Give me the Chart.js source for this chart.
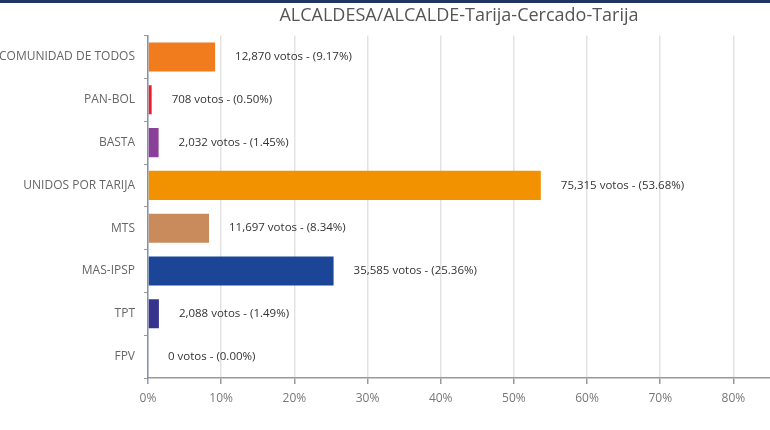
<!DOCTYPE html>
<html>
<head>
<meta charset="utf-8">
<script src="https://cdn.jsdelivr.net/npm/chart.js@4/dist/chart.umd.min.js"></script>
<style>
  html, body { margin: 0; padding: 0; background: #fff; }
  #wrap { position: relative; width: 770px; height: 430px; }
  #band { position: absolute; left: 0; top: 0; width: 770px; height: 3px; background: #1e3566; }
</style>
</head>
<body>
<div id="wrap">
  <canvas id="chart" width="770" height="430"></canvas>
  <div id="band"></div>
</div>
<script>
const parties = ['COMUNIDAD DE TODOS', 'PAN-BOL', 'BASTA', 'UNIDOS POR TARIJA', 'MTS', 'MAS-IPSP', 'TPT', 'FPV'];
const votes = [12870, 708, 2032, 75315, 11697, 35585, 2088, 0];
const percents = [9.17, 0.50, 1.45, 53.68, 8.34, 25.36, 1.49, 0.00];
const barColors = ['#f07c1e', '#e8202e', '#8a3f99', '#f39200', '#c98a5c', '#1b4597', '#35338c', '#999999'];

const valueLabels = {
    id: 'valueLabels',
    afterDatasetsDraw(chart) {
        const ctx = chart.ctx;
        const meta = chart.getDatasetMeta(0);
        ctx.save();
        ctx.font = '11.5px "Open Sans", sans-serif';
        ctx.fillStyle = '#333';
        ctx.textBaseline = 'middle';
        meta.data.forEach(function (bar, i) {
            const txt = votes[i].toLocaleString('en-US') + ' votos - (' + percents[i].toFixed(2) + '%)';
            ctx.fillText(txt, bar.x + 20, bar.y);
        });
        ctx.restore();
    }
};

new Chart(document.getElementById('chart'), {
    type: 'bar',
    data: {
        labels: parties,
        datasets: [{
            data: percents,
            backgroundColor: barColors,
            barPercentage: 0.68,
            categoryPercentage: 1
        }]
    },
    options: {
        indexAxis: 'y',
        responsive: false,
        animation: false,
        layout: { padding: { left: 0, right: 0, top: 0, bottom: 0 } },
        plugins: {
            legend: { display: false },
            tooltip: { enabled: false },
            title: {
                display: true,
                fullSize: false,
                text: 'ALCALDESA/ALCALDE-Tarija-Cercado-Tarija',
                color: '#555',
                font: { family: '"Open Sans", sans-serif', size: 18, weight: 'normal' },
                padding: { top: 5, bottom: 9 }
            }
        },
        scales: {
            x: {
                min: 0,
                max: 85,
                afterBuildTicks(axis) {
                    axis.ticks = axis.ticks.filter(t => t.value % 10 === 0);
                },
                afterFit(axis) { axis.height = 52; },
                ticks: {
                    stepSize: 10,
                    color: '#777',
                    padding: 7,
                    font: { family: '"Open Sans", sans-serif', size: 12 },
                    callback: v => v + '%'
                },
                grid: { color: '#e3e3e3', lineWidth: 1.5, tickColor: '#999', tickLength: 6 },
                border: { color: '#999', width: 1.5 }
            },
            y: {
                afterFit(axis) { axis.width = 148; },
                ticks: {
                    color: '#666',
                    padding: 9,
                    font: { family: '"Open Sans", sans-serif', size: 12 }
                },
                grid: { drawOnChartArea: false, offset: true, tickLength: 4, color: '#999' },
                border: { color: '#8393ad', width: 1.5 }
            }
        }
    },
    plugins: [valueLabels]
});
</script>
</body>
</html>
